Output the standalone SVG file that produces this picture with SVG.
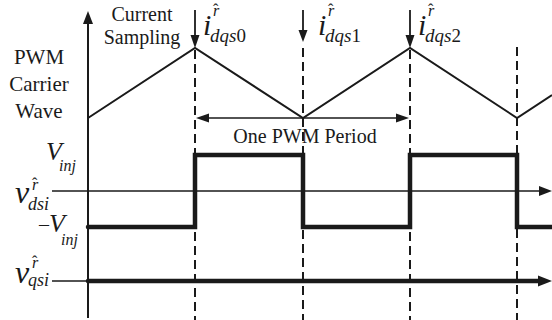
<svg xmlns="http://www.w3.org/2000/svg" width="552" height="320" viewBox="0 0 552 320">
<defs>
<style>
.t{font-family:"Liberation Serif","Times New Roman",serif;fill:#1a1a1a}
.it{font-style:italic}
.ln{stroke:#1a1a1a;fill:none}
.dash{stroke:#1a1a1a;stroke-width:2;stroke-dasharray:9 5;fill:none}
.ah{fill:#1a1a1a;stroke:none}
</style>
</defs>
<rect width="552" height="320" fill="#ffffff"/>

<g id="labels-left">
<text class="t" x="39" y="64" font-size="21" text-anchor="middle">PWM</text>
<text class="t" x="39" y="91" font-size="21" text-anchor="middle">Carrier</text>
<text class="t" x="39" y="118" font-size="21" text-anchor="middle">Wave</text>
<text class="t" x="142" y="21" font-size="20" text-anchor="middle">Current</text>
<text class="t" x="142" y="44" font-size="20" text-anchor="middle">Sampling</text>
<text class="t" x="305" y="143" font-size="20" text-anchor="middle">One PWM Period</text>
</g>

<g id="sample-labels">
<g id="i0">
<text class="t it" x="203" y="35" font-size="30">i</text>
<text class="t it" x="213" y="16" font-size="16">r</text>
<text class="t" x="213" y="15" font-size="16">ˆ</text>
<text class="t" x="210" y="42" font-size="19"><tspan class="it">dqs</tspan>0</text>
</g>
<g id="i1">
<text class="t it" x="318" y="35" font-size="30">i</text>
<text class="t it" x="328" y="16" font-size="16">r</text>
<text class="t" x="328" y="15" font-size="16">ˆ</text>
<text class="t" x="325" y="42" font-size="19"><tspan class="it">dqs</tspan>1</text>
</g>
<g id="i2">
<text class="t it" x="418" y="35" font-size="30">i</text>
<text class="t it" x="428" y="16" font-size="16">r</text>
<text class="t" x="428" y="15" font-size="16">ˆ</text>
<text class="t" x="425" y="42" font-size="19"><tspan class="it">dqs</tspan>2</text>
</g>
</g>

<g id="signal-labels">
<g id="vinj">
<text class="t it" x="46" y="160" font-size="26">V</text>
<text class="t it" x="59" y="171" font-size="16">inj</text>
</g>
<g id="neg-vinj">
<text class="t" x="39" y="231" font-size="20">–</text>
<text class="t it" x="49" y="232" font-size="26">V</text>
<text class="t it" x="61" y="245" font-size="16">inj</text>
</g>
<g id="vdsi">
<text class="t it" x="15" y="203" font-size="32">v</text>
<text class="t it" x="32" y="190" font-size="16">r</text>
<text class="t" x="32" y="189" font-size="16">ˆ</text>
<text class="t it" x="28" y="210" font-size="18">dsi</text>
</g>
<g id="vqsi">
<text class="t it" x="15" y="283" font-size="32">v</text>
<text class="t it" x="32" y="268" font-size="16">r</text>
<text class="t" x="32" y="267" font-size="16">ˆ</text>
<text class="t it" x="28" y="286" font-size="18">qsi</text>
</g>
</g>

<g id="connectors">
<line class="ln" x1="88" y1="22" x2="88" y2="318" stroke-width="2"/>
<polygon class="ah" points="88,11 83,24 93,24"/>
<polyline class="ln" stroke-width="2" points="88,118 195,48 303,118 410,48 517,118 552,95"/>
<line class="dash" x1="195" y1="50" x2="195" y2="320"/>
<line class="dash" x1="303" y1="48" x2="303" y2="320"/>
<line class="dash" x1="410" y1="50" x2="410" y2="320"/>
<line class="dash" x1="517" y1="47" x2="517" y2="320"/>
<line class="ln" stroke-width="1.8" x1="195" y1="10" x2="195" y2="38"/>
<polygon class="ah" points="195,48 190.5,35 199.5,35"/>
<line class="ln" stroke-width="1.8" x1="303" y1="10" x2="303" y2="32"/>
<polygon class="ah" points="303,42 298.5,30 307.5,30"/>
<line class="ln" stroke-width="1.8" x1="410" y1="10" x2="410" y2="38"/>
<polygon class="ah" points="410,48 405.5,35 414.5,35"/>
<line class="ln" stroke-width="1.6" x1="205" y1="118" x2="400" y2="118"/>
<polygon class="ah" points="196,118 209,113.5 209,122.5"/>
<polygon class="ah" points="409,118 396,113.5 396,122.5"/>
<line class="ln" stroke-width="1.6" x1="52" y1="191" x2="542" y2="191"/>
<polygon class="ah" points="552,191 539,186 539,196"/>
<path class="ln" stroke-width="4.5" stroke-linecap="round" stroke-linejoin="miter" d="M88,227 H195 V155 H303 V227 H410 V155 H517 V227 H552"/>
<line class="ln" stroke-width="1.6" x1="52" y1="281" x2="88" y2="281"/>
<line class="ln" stroke-width="4.5" stroke-linecap="round" x1="88" y1="281" x2="542" y2="281"/>
<polygon class="ah" points="552,281 538,275.5 538,286.5"/>
</g>
</svg>
